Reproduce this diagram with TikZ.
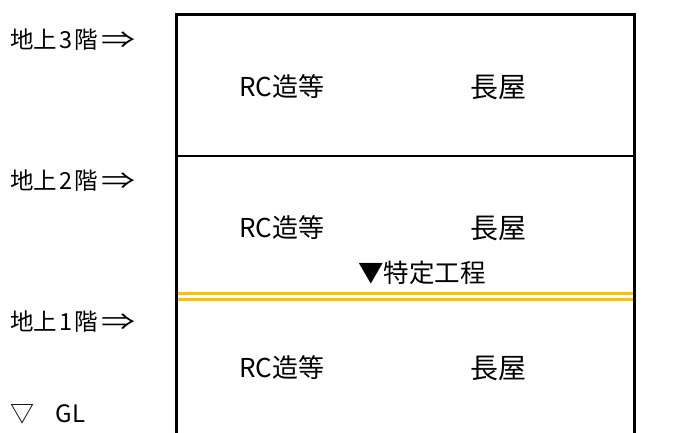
\documentclass[tikz,border=0pt]{standalone}
\usepackage{fontspec}
\usepackage{graphicx}
\setmainfont{Noto Sans CJK JP}
\definecolor{gold}{HTML}{FFC000}
\newcommand{\wideRA}{\hspace{0.12em}\scalebox{1.45}[1]{⇒}}
\begin{document}
\begin{tikzpicture}[x=1pt,y=-1pt,
  frame/.style={line width=2.8pt,black},
  yel/.style={line width=2.8pt,gold},
  floorlbl/.style={anchor=west,inner sep=0pt,font=\fontsize{23.5}{23.5}\selectfont},
  rclbl/.style={inner sep=0pt,font=\fontsize{26}{26}\selectfont},
  nagalbl/.style={inner sep=0pt,font=\fontsize{28}{28}\selectfont},
  koutei/.style={inner sep=0pt,font=\fontsize{25.5}{25.5}\selectfont}]
\useasboundingbox (0,0) rectangle (687,432);
% frame
\coordinate (tl) at (176.5,14.5);
\coordinate (tr) at (634.5,14.5);
\coordinate (bl) at (176.5,433);
\coordinate (br) at (634.5,433);
\coordinate (ml) at (176.5,156);
\coordinate (mr) at (634.5,156);
\coordinate (y1l) at (178,293.8);
\coordinate (y1r) at (633,293.8);
\coordinate (y2l) at (178,299.2);
\coordinate (y2r) at (633,299.2);
\draw[yel] (y1l) -- (y1r);
\draw[yel] (y2l) -- (y2r);
\draw[frame] (bl) -- (tl) -- (tr) -- (br);
\draw[frame] (ml) -- (mr);
% floor labels
\node[floorlbl] (f3) at (10,40) {地上\hspace{0.1em}3\hspace{0.1em}階\wideRA};
\node[floorlbl] (f2) at (10,181) {地上\hspace{0.1em}2\hspace{0.1em}階\wideRA};
\node[floorlbl] (f1) at (10,322) {地上\hspace{0.1em}1\hspace{0.1em}階\wideRA};
\node[floorlbl,font=\fontsize{24}{24}\selectfont] (gl) at (10,414) {▽\hspace{0.9em}GL};
% contents
\node[rclbl] (rc3) at (282,87) {RC造等};
\node[rclbl] (rc2) at (282,228) {RC造等};
\node[rclbl] (rc1) at (282,368) {RC造等};
\node[nagalbl] (n3) at (498,87) {長屋};
\node[nagalbl] (n2) at (498,228) {長屋};
\node[nagalbl] (n1) at (498,368) {長屋};
\node[koutei] (tk) at (422,273) {▼特定工程};
\end{tikzpicture}
\end{document}
